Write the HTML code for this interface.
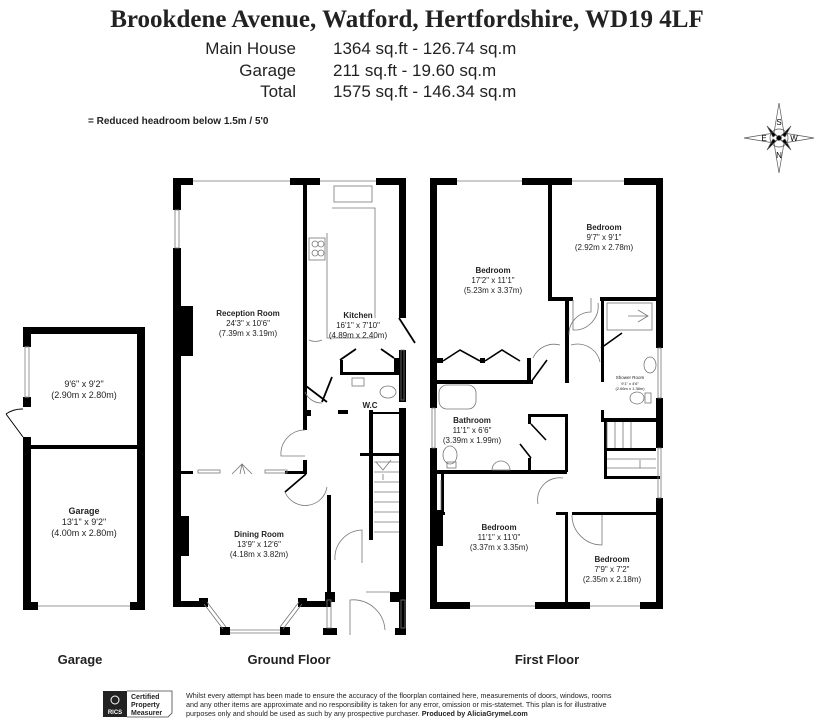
<!DOCTYPE html>
<html><head><meta charset="utf-8"><style>
html,body{margin:0;padding:0;background:#fff;}
svg{display:block;}
.t{font-family:"Liberation Sans",sans-serif;fill:#222;}
.b{font-weight:bold;}
</style></head><body>
<svg width="816" height="721" viewBox="0 0 816 721" xmlns="http://www.w3.org/2000/svg">
<rect width="816" height="721" fill="#fff"/>
<text x="407" y="27" text-anchor="middle" font-family="Liberation Serif,serif" font-weight="bold" font-size="25" fill="#222">Brookdene Avenue, Watford, Hertfordshire, WD19 4LF</text>
<g class="t" font-size="17">
<text x="296" y="54" text-anchor="end" class="t">Main House</text><text x="333" y="54" class="t">1364 sq.ft - 126.74 sq.m</text>
<text x="296" y="76" text-anchor="end" class="t">Garage</text><text x="333" y="76" class="t">211 sq.ft - 19.60 sq.m</text>
<text x="296" y="97" text-anchor="end" class="t">Total</text><text x="333" y="97" class="t">1575 sq.ft - 146.34 sq.m</text>
</g>
<text x="88" y="124" class="t b" font-size="10">= Reduced headroom below 1.5m / 5'0</text>

<!-- compass -->
<g transform="translate(779,138)" fill="none" stroke="#555" stroke-width="0.7">
<polygon points="0,-35 5,-5 0,0 -5,-5"/><polygon points="0,35 5,5 0,0 -5,5"/>
<polygon points="-35,0 -5,5 0,0 -5,-5"/><polygon points="35,0 5,5 0,0 5,-5"/>
<polygon points="-12,-12 -3,-3 -6,-1" fill="#000"/><polygon points="12,-12 3,-3 6,-1" fill="#000"/>
<polygon points="-12,12 -3,3 -6,1" fill="#000"/><polygon points="12,12 3,3 6,1" fill="#000"/>
<circle r="9"/><circle r="2.5" fill="#000"/>
<text x="0" y="-13" font-size="8" text-anchor="middle" fill="#000" stroke="none" font-family="Liberation Sans">S</text>
<text x="0" y="20" font-size="8" text-anchor="middle" fill="#000" stroke="none" font-family="Liberation Sans">N</text>
<text x="-15" y="3" font-size="8" text-anchor="middle" fill="#000" stroke="none" font-family="Liberation Sans">E</text>
<text x="15" y="3" font-size="8" text-anchor="middle" fill="#000" stroke="none" font-family="Liberation Sans">W</text>
</g>

<!-- GARAGE -->
<g fill="#000">
<rect x="23" y="327" width="122" height="7"/>
<rect x="137" y="327" width="8" height="283"/>
<rect x="23" y="327" width="8" height="20"/>
<rect x="23" y="397" width="8" height="10"/>
<rect x="23" y="437" width="8" height="173"/>
<rect x="23" y="445" width="122" height="4"/>
<rect x="23" y="602" width="15" height="8"/>
<rect x="130" y="602" width="15" height="8"/>
</g>
<g fill="none" stroke="#999" stroke-width="1">
<rect x="25" y="347" width="4" height="50"/>
<line x1="38" y1="606" x2="130" y2="606"/>
<path d="M23,437 L6,414 M23,409 A28,28 0 0 0 6,414" stroke="#000"/>
</g>
<text x="84" y="387" class="t" font-size="9" text-anchor="middle">9'6" x 9'2"</text>
<text x="84" y="398" class="t" font-size="9" text-anchor="middle">(2.90m x 2.80m)</text>
<text x="84" y="514" class="t b" font-size="9" text-anchor="middle">Garage</text>
<text x="84" y="525" class="t" font-size="9" text-anchor="middle">13'1" x 9'2"</text>
<text x="84" y="536" class="t" font-size="9" text-anchor="middle">(4.00m x 2.80m)</text>

<!-- GROUND FLOOR -->
<g fill="#000">
<rect x="173" y="178" width="20" height="7"/>
<rect x="290" y="178" width="30" height="7"/>
<rect x="376" y="178" width="30" height="7"/>
<rect x="173" y="178" width="8" height="32"/>
<rect x="173" y="248" width="8" height="359"/>
<rect x="181" y="306" width="12" height="50"/>
<rect x="181" y="516" width="8" height="40"/>
<rect x="303" y="178" width="4" height="252"/>
<rect x="303" y="410" width="8" height="6"/>
<rect x="399" y="178" width="7" height="140"/>
<rect x="399" y="350" width="7" height="52"/>
<rect x="399" y="408" width="7" height="226"/>
<rect x="181" y="471" width="12" height="3"/>
<rect x="285" y="471" width="20" height="3"/>
<rect x="303" y="460" width="4" height="14"/>
<rect x="327" y="495" width="4" height="112"/>
<rect x="173" y="601" width="30" height="6"/>
<rect x="303" y="601" width="28" height="6"/>
<rect x="325" y="592" width="10" height="10"/>
<rect x="390" y="592" width="16" height="10"/>
<rect x="323" y="628" width="14" height="7"/>
<rect x="395" y="628" width="11" height="7"/>
<rect x="340" y="372" width="60" height="3"/>
<rect x="340" y="360" width="3" height="15"/>
<rect x="394" y="358" width="5" height="15"/>
<rect x="338" y="410" width="10" height="4"/>
<rect x="369" y="410" width="4" height="130"/>
<rect x="360" y="453" width="40" height="3"/>
<rect x="373" y="412" width="26" height="2"/>
<rect x="199" y="598" width="9" height="9"/>
<rect x="298" y="598" width="9" height="9"/>
<rect x="220" y="627" width="10" height="8"/>
<rect x="280" y="627" width="10" height="8"/>
</g>
<g fill="none" stroke="#000" stroke-width="1.8">
<path d="M306,386 L327,402 M332,377 L322,402 M306,474 L285,492"/>
<path d="M340,360 L356,349 M394,358 L381,349"/>
<path d="M399,318 L415,343"/>
</g>
<g fill="none" stroke="#777" stroke-width="0.8">
<path d="M193,181 H290 M320,181 H376"/>
<rect x="175" y="210" width="4" height="38"/>
<rect x="198" y="470" width="22" height="3"/><rect x="265" y="470" width="22" height="3"/>
<path d="M232,474 L242,464 L252,474 M242,464 L240,474 M242,464 L245,474"/>
<path d="M230,630 H280 M230,633 H280 M204,604 L223,629 M207,602 L226,627 M302,604 L283,629 M299,602 L280,627"/>
<path d="M305,430 A24,24 0 0 0 281,456 L305,456"/>
<path d="M285,492 A22,22 0 0 0 327,487"/>
<path d="M335,560 A28,28 0 0 1 362,530 V563"/>
<path d="M366,592 H390"/>
<path d="M350,635 V600 A32,32 0 0 1 385,630"/>
<rect x="327" y="600" width="4" height="28"/><rect x="401" y="600" width="4" height="28"/>
<path d="M327,233 V338 H375 M332,208 H375 V318"/>
<rect x="334" y="186" width="38" height="16"/>
<rect x="309" y="238" width="16" height="22"/>
<circle cx="315" cy="244" r="3"/><circle cx="321" cy="244" r="3"/><circle cx="315" cy="253" r="3"/><circle cx="321" cy="253" r="3"/>
<path d="M309,340 Q315,343 322,340"/>
<path d="M322,403 A18,18 0 0 1 305,392"/>
<rect x="352" y="378" width="12" height="8"/>
<ellipse cx="388" cy="392" rx="8" ry="6"/>
<path d="M374,462 H399 M374,472 H399 M374,482 H399 M374,492 H399 M374,502 H399 M374,512 H399 M374,522 H399 M374,532 H399 M383,480 V474 M376,462 L383,470 L391,460"/>
<rect x="401" y="350" width="3" height="50"/>
</g>
<g font-size="8" text-anchor="middle">
<text x="248" y="316" class="t b">Reception Room</text>
<text x="248" y="326" class="t">24'3" x 10'6"</text>
<text x="248" y="336" class="t">(7.39m x 3.19m)</text>
<text x="358" y="318" class="t b">Kitchen</text>
<text x="358" y="328" class="t">16'1" x 7'10"</text>
<text x="358" y="338" class="t">(4.89m x 2.40m)</text>
<text x="370" y="408" class="t b">W.C</text>
<text x="259" y="537" class="t b">Dining Room</text>
<text x="259" y="547" class="t">13'9" x 12'6"</text>
<text x="259" y="557" class="t">(4.18m x 3.82m)</text>
</g>

<!-- FIRST FLOOR -->
<g fill="#000">
<rect x="430" y="178" width="27" height="7"/>
<rect x="522" y="178" width="50" height="7"/>
<rect x="624" y="178" width="39" height="7"/>
<rect x="430" y="178" width="7" height="230"/>
<rect x="430" y="448" width="7" height="161"/>
<rect x="437" y="510" width="6" height="36"/>
<rect x="656" y="178" width="7" height="170"/>
<rect x="656" y="398" width="7" height="50"/>
<rect x="656" y="498" width="7" height="111"/>
<rect x="430" y="602" width="40" height="7"/>
<rect x="535" y="602" width="55" height="7"/>
<rect x="640" y="602" width="23" height="7"/>
<rect x="548" y="178" width="4" height="123"/>
<rect x="548" y="297" width="25" height="4"/>
<rect x="600" y="297" width="63" height="4"/>
<rect x="565" y="297" width="4" height="86"/>
<rect x="601" y="297" width="3" height="85"/>
<rect x="601" y="410" width="3" height="12"/>
<rect x="604" y="418" width="52" height="4"/>
<rect x="604" y="418" width="3" height="30"/>
<rect x="604" y="448" width="52" height="3"/>
<rect x="604" y="448" width="3" height="30"/>
<rect x="604" y="476" width="56" height="3"/>
<rect x="437" y="380" width="96" height="4"/>
<rect x="527" y="358" width="4" height="25"/>
<rect x="437" y="358" width="6" height="5"/>
<rect x="480" y="358" width="5" height="5"/>
<rect x="528" y="414" width="40" height="3"/>
<rect x="528" y="414" width="3" height="10"/>
<rect x="528" y="458" width="3" height="15"/>
<rect x="565" y="414" width="3" height="58"/>
<rect x="437" y="470" width="130" height="4"/>
<rect x="565" y="512" width="3" height="97"/>
<rect x="572" y="512" width="91" height="3"/>
<rect x="556" y="512" width="12" height="3"/>
<rect x="441" y="474" width="3" height="40"/>
<rect x="437" y="512" width="8" height="3"/>
</g>
<g fill="none" stroke="#000" stroke-width="1.6">
<path d="M443,361 L460,350 L480,361 M485,361 L502,350 L520,361"/>
<path d="M531,382 L547,360"/>
<path d="M531,424 L546,440 M531,458 L520,444"/>
<path d="M601,348 L622,333"/>
</g>
<g fill="none" stroke="#777" stroke-width="0.8">
<path d="M457,181 H522 M572,181 H624"/>
<path d="M470,606 H535 M590,606 H640"/>
<rect x="432" y="408" width="3" height="40"/>
<rect x="658" y="348" width="3" height="50"/>
<rect x="658" y="448" width="3" height="50"/>
<rect x="439" y="385" width="37" height="24" rx="8"/>
<ellipse cx="450" cy="455" rx="7" ry="9"/><rect x="447" y="462" width="9" height="6"/>
<path d="M492,470 A9,9 0 0 1 510,470 Z"/>
<rect x="607" y="303" width="45" height="27"/>
<path d="M638,310 L648,316 L638,322 M628,316 H648"/>
<ellipse cx="650" cy="365" rx="6" ry="8"/>
<ellipse cx="637" cy="398" rx="7" ry="6"/><rect x="645" y="393" width="6" height="10"/>
<path d="M569,335 A22,22 0 0 1 591,312 V298"/>
<path d="M573,300 V330 A24,24 0 0 0 598,303"/>
<path d="M533,358 A23,23 0 0 1 560,345"/>
<path d="M571,345 A23,23 0 0 1 600,362"/>
<path d="M538,504 A22,22 0 0 1 563,478"/>
<path d="M572,515 A30,30 0 0 0 602,545 V515"/>
<path d="M441,480 V510"/>
<path d="M607,422 V448 M615,422 V448 M623,422 V448 M631,422 V448 M607,459 H656 M607,468 H656 M640,460 V468"/>
</g>
<g font-size="8" text-anchor="middle">
<text x="493" y="273" class="t b">Bedroom</text>
<text x="493" y="283" class="t">17'2" x 11'1"</text>
<text x="493" y="293" class="t">(5.23m x 3.37m)</text>
<text x="604" y="230" class="t b">Bedroom</text>
<text x="604" y="240" class="t">9'7" x 9'1"</text>
<text x="604" y="250" class="t">(2.92m x 2.78m)</text>
<text x="472" y="423" class="t b">Bathroom</text>
<text x="472" y="433" class="t">11'1" x 6'6"</text>
<text x="472" y="443" class="t">(3.39m x 1.99m)</text>
<text x="630" y="379" class="t" font-size="4.5">Shower Room</text>
<text x="630" y="385" class="t" font-size="4">9'1" x 4'6"</text>
<text x="630" y="390" class="t" font-size="4">(2.66m x 1.38m)</text>
<text x="499" y="530" class="t b">Bedroom</text>
<text x="499" y="540" class="t">11'1" x 11'0"</text>
<text x="499" y="550" class="t">(3.37m x 3.35m)</text>
<text x="612" y="562" class="t b">Bedroom</text>
<text x="612" y="572" class="t">7'9" x 7'2"</text>
<text x="612" y="582" class="t">(2.35m x 2.18m)</text>
</g>

<g font-size="13" font-weight="bold" class="t">
<text x="80" y="664" text-anchor="middle" class="t b">Garage</text>
<text x="289" y="664" text-anchor="middle" class="t b">Ground Floor</text>
<text x="547" y="664" text-anchor="middle" class="t b">First Floor</text>
</g>

<!-- footer -->
<rect x="103" y="691" width="24" height="26" fill="#222"/>
<text x="115" y="714" font-size="6" fill="#fff" text-anchor="middle" font-family="Liberation Sans" font-weight="bold">RICS</text>
<circle cx="115" cy="700" r="4" fill="none" stroke="#fff"/>
<path d="M127,691 H172 V713 L168,717 H127" fill="none" stroke="#444" stroke-width="0.8"/>
<text x="131" y="699" font-size="7" class="t b">Certified</text>
<text x="131" y="707" font-size="7" class="t b">Property</text>
<text x="131" y="715" font-size="7" class="t b">Measurer</text>
<g font-size="7.2" class="t">
<text x="186" y="698" class="t">Whilst every attempt has been made to ensure the accuracy of the floorplan contained here, measurements of doors, windows, rooms</text>
<text x="186" y="707" class="t">and any other items are approximate and no responsibility is taken for any error, omission or mis-statemet. This plan is for illustrative</text>
<text x="186" y="716" class="t">purposes only and should be used as such by any prospective purchaser. <tspan font-weight="bold">Produced by AliciaGrymel.com</tspan></text>
</g>
</svg>
</body></html>
